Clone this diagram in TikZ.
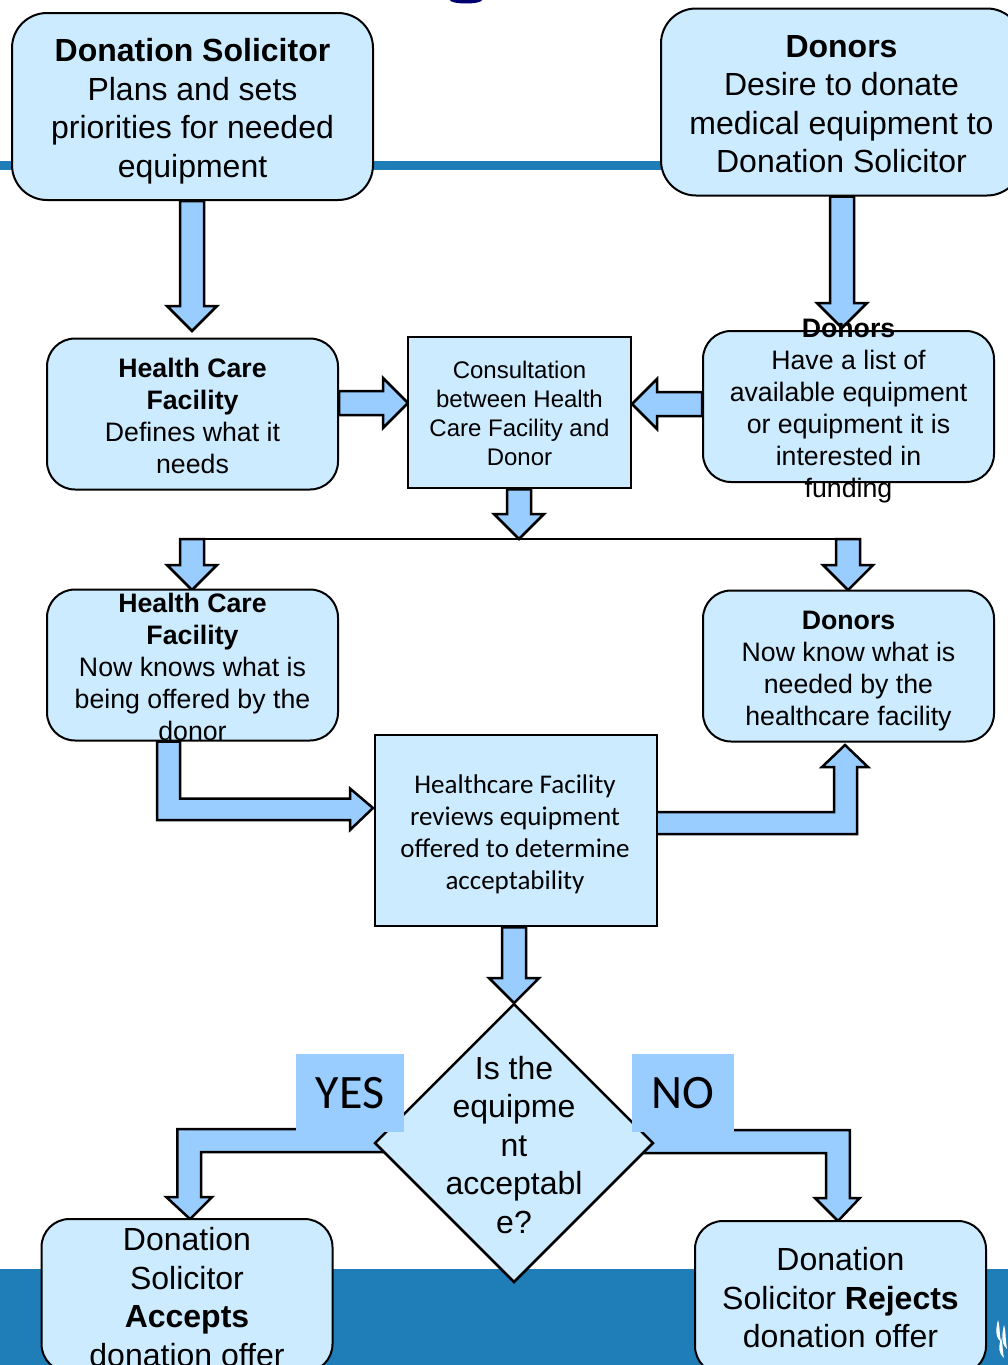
\documentclass[tikz,border=0pt]{standalone}
\usepackage{fontspec}
\setmainfont{Liberation Sans}
\newfontfamily\carlito{Carlito}
\usetikzlibrary{calc,shapes.geometric,backgrounds}

\definecolor{boxblue}{HTML}{CCEBFF}
\definecolor{arrowblue}{HTML}{99CCFF}
\definecolor{bandblue}{HTML}{1F7DB8}
\definecolor{titlenavy}{HTML}{000070}

\newcommand{\boxlines}[2][0pt]{\smash{\raisebox{#1}{\begin{tabular}[c]{@{}c@{}}#2\end{tabular}}}}
\newcommand{\fatarrow}[2]{
  \draw[blockarrow] ($(#1)!12pt!90:(#2)$) -- ($(#2)!25pt!(#1)!12pt!90:(#2)$)
    -- ($(#2)!25pt!(#1)!25pt!90:(#2)$) -- (#2)
    -- ($(#2)!25pt!(#1)!25pt!-90:(#2)$) -- ($(#2)!25pt!(#1)!12pt!-90:(#2)$)
    -- ($(#1)!12pt!-90:(#2)$) -- cycle;
}

\tikzset{
  x=1pt,y=-1pt,
  blockarrow/.style={draw=black,line width=2.5pt,fill=arrowblue,line join=miter},
  roundbox/.style={draw=black,line width=2pt,fill=boxblue,rounded corners=28pt,inner sep=0pt,
    minimum width=291pt,minimum height=151pt,font=\fontsize{26.7}{32}\selectfont},
  bigbox/.style={roundbox,rounded corners=35pt,minimum width=361pt,minimum height=187pt,
    font=\fontsize{32}{38.5}\selectfont},
  squarebox/.style={draw=black,line width=2.5pt,fill=boxblue,inner sep=0pt},
  answer/.style={fill=arrowblue,inner sep=0pt,font=\carlito\fontsize{48}{56}\selectfont}
}

\begin{document}
\begin{tikzpicture}

\useasboundingbox (0,0) rectangle (1008,1365);

\coordinate (tipa) at (192,331);
\coordinate (tipb) at (842,328);
\coordinate (tipc) at (408,403);
\coordinate (tipd) at (632,404);
\coordinate (split) at (519,539);
\coordinate (splitl) at (180,539);
\coordinate (splitr) at (860,539);
\coordinate (tipe) at (192,590);
\coordinate (tipf) at (848,590);
\coordinate (tipg) at (373,808);
\coordinate (tiph) at (845,745);
\coordinate (tipi) at (514,1003);
\coordinate (tipj) at (190,1219);
\coordinate (tipk) at (838,1221);

\node[bigbox] (solicitor) at (192.5,106.5) {\boxlines[-11.3pt]{\textbf{Donation Solicitor}\\Plans and sets\\priorities for needed\\equipment}};
\node[bigbox] (donors) at (841.5,102) {\boxlines[-11.3pt]{\textbf{Donors}\\Desire to donate\\medical equipment to\\Donation Solicitor}};
\node[roundbox] (hcf) at (192.5,414) {\boxlines[-11pt]{\textbf{Health Care}\\\textbf{Facility}\\Defines what it\\needs}};
\node[squarebox,minimum width=223pt,minimum height=151pt,font=\fontsize{24}{28.7}\selectfont] (consult) at (519.5,412.5) {\boxlines[-10pt]{Consultation\\between Health\\Care Facility and\\Donor}};
\node[roundbox] (list) at (848.5,406.5) {\boxlines[-11pt]{\textbf{Donors}\\Have a list of\\available equipment\\or equipment it is\\interested in\\funding}};
\node[roundbox] (hcfnow) at (192.5,665) {\boxlines[-11pt]{\textbf{Health Care}\\\textbf{Facility}\\Now knows what is\\being offered by the\\donor}};
\node[roundbox] (donorsnow) at (848.5,666) {\boxlines[-11pt]{\textbf{Donors}\\Now know what is\\needed by the\\healthcare facility}};
\node[squarebox,minimum width=282pt,minimum height=191pt,font=\carlito\fontsize{27}{32}\selectfont] (review) at (516,830.5) {\boxlines[-11pt]{\kern-2pt Healthcare Facility\\\kern-2pt reviews equipment\\\kern-2pt offered to determine\\\kern-2pt acceptability}};

\node[diamond,draw=black,line width=2.5pt,fill=boxblue,aspect=1,inner sep=0pt,minimum width=279pt,minimum height=279pt,
  font=\fontsize{32}{38.5}\selectfont] (question) at (514,1143) {\boxlines[-12pt]{Is the\\equipme\\nt\\acceptabl\\e?}};

\node[answer,minimum width=108pt,minimum height=78pt] (yes) at (350,1093) {YES};
\node[answer,minimum width=102pt,minimum height=78pt] (no) at (683,1093) {NO};

\node[roundbox,minimum height=153pt,font=\fontsize{32}{38.5}\selectfont] (accepts) at (187,1295.5) {\boxlines[-11.3pt]{Donation\\Solicitor\\\textbf{Accepts}\\donation offer}};
\node[roundbox,minimum height=153pt,font=\fontsize{32}{38.5}\selectfont] (rejects) at (840.5,1297.5) {\boxlines[-10.5pt]{Donation\\Solicitor \textbf{Rejects}\\donation offer}};

\begin{scope}[on background layer]
\fill[bandblue] (0,161) rectangle (1008,170);
\fill[bandblue] (0,1269) rectangle (1008,1365);
\fill[titlenavy] (450,0) arc[start angle=180,end angle=0,x radius=16,y radius=3.5] -- cycle;

\fatarrow{tipa |- solicitor.south}{tipa}
\fatarrow{tipb |- donors.south}{tipb}
\fatarrow{hcf.east |- tipc}{tipc}
\fatarrow{list.west |- tipd}{tipd}
\fatarrow{split |- consult.south}{split}
\fatarrow{tipe |- split}{tipe}
\fatarrow{tipf |- split}{tipf}
\fatarrow{tipi |- review.south}{tipi}

\draw[line width=2.5pt] (splitl) -- (splitr);

\draw[blockarrow] (tipg) -- ++(-23,22) -- ++(0,-10) -- ++(-193,0) -- ($(hcfnow.south)+(-35.5,0)$) -- ++(23,0)
  -- ++(0,57) -- ++(170,0) -- ++(0,-10) -- cycle;
\draw[blockarrow] (tiph) -- ++(23,22) -- ++(-11,0) -- ++(0,67) -- ++(-205,0) -- ++(0,-22) -- ++(182,0)
  -- ++(0,-45) -- ++(-12,0) -- cycle;
\draw[blockarrow] ($(question.west)+(16,-14)$) -- ++(-212,0) -- ++(0,68) -- ++(-11,0) -- (tipj)
  -- ++(22,-22) -- ++(-11,0) -- ++(0,-45) -- ++(190,0) -- cycle;
\draw[blockarrow] ($(question.east)+(-16,-13)$) -- ++(211,0) -- ++(0,68) -- ++(10,0) -- (tipk)
  -- ++(-23,-23) -- ++(11,0) -- ++(0,-45) -- ++(-188,0) -- cycle;
\end{scope}

\foreach \x/\y/\h in {998/1320/22,1001/1338/20,1004/1325/24}
  \fill[white] (\x,\y) .. controls (\x-3,\y+\h/2) and (\x-2,\y+\h-4) .. (\x+3,\y+\h) .. controls (\x+1,\y+\h/2) and (\x+2,\y+5) .. (\x,\y);

\end{tikzpicture}
\end{document}
